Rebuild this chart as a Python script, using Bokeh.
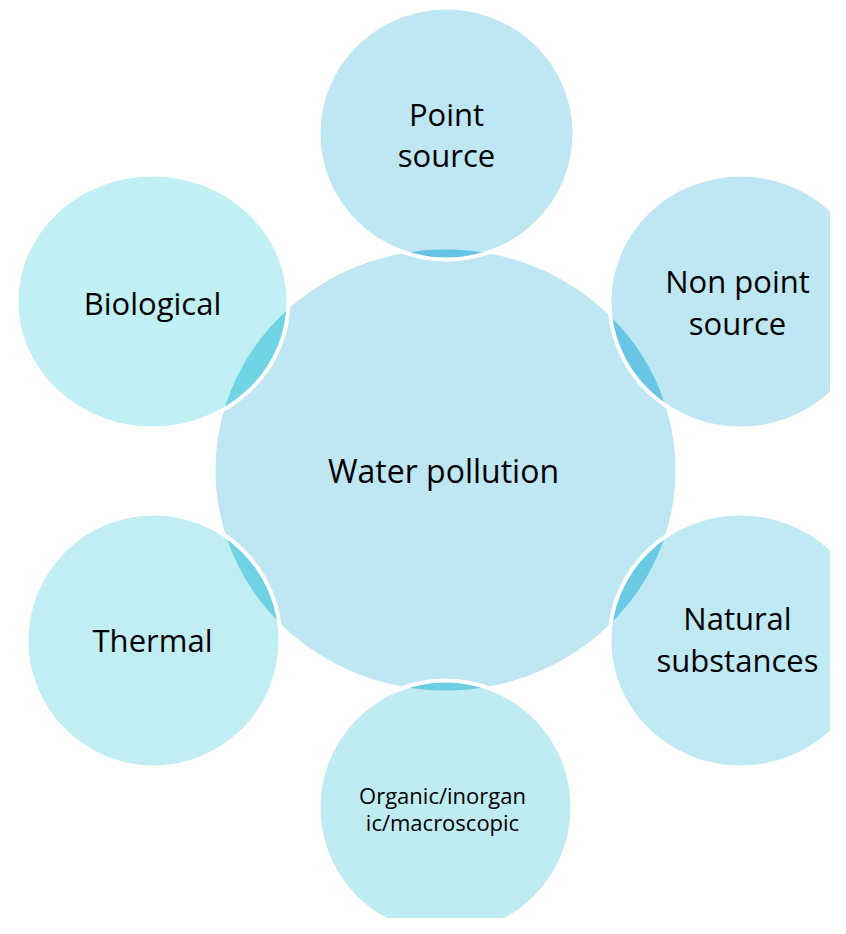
import numpy as np
from bokeh.plotting import figure
from bokeh.models import Range1d, ColumnDataSource
from bokeh.core.properties import value
from bokeh.embed import file_html
from bokeh.resources import INLINE

# ---- content ----
center_label = "Water pollution"
outer_labels = ["Point\nsource", "Non point\nsource", "Natural\nsubstances",
                "Organic/inorgan\nic/macroscopic", "Thermal", "Biological"]

# ---- layout (screen-pixel coordinates) ----
center_xy = (445, 469.5)
center_r = (230, 220.5)
outer_cx = [446, 740, 740, 445, 153, 152]
outer_cy = [133, 301, 640, 807, 640, 301]
outer_rx = [128, 131, 131, 127, 127, 136]
outer_ry = [126, 127, 127, 127, 127, 127]
outer_fill = ["#bee6f3", "#bee7f3", "#bfe9f3", "#bfebf3", "#c0eef3", "#c1f0f4"]
lens_fill = ["#64c3e6", "#68c6e4", "#6ac9e3", "#6dcde2", "#6fd2e3", "#6fd4e3"]
label_x = [446, 737, 737, 442, 152, 152]
label_base = [113, 280, 617, 794, 639, 302]
label_gap = [41, 42, 42, 27, 0, 0]
label_size = ["31px", "31px", "31px", "22px", "31px", "31px"]
center_text_xy = (443, 470)
center_fill = "#bee6f3"

W, H = 830, 918
p = figure(width=W, height=H, output_backend="svg", toolbar_location=None,
           x_range=Range1d(0, W), y_range=Range1d(H, 0),
           min_border=0)
p.axis.visible = False
p.grid.visible = False
p.outline_line_color = None
p.background_fill_color = "white"
p.border_fill_color = "white"

# central circle
p.ellipse(x=[center_xy[0]], y=[center_xy[1]], width=[2 * center_r[0]],
          height=[2 * center_r[1]], fill_color=center_fill, line_color=None)


def ell_pts(cx, cy, rx, ry, n=1440):
    t = np.linspace(0, 2 * np.pi, n, endpoint=False)
    return cx + rx * np.cos(t), cy + ry * np.sin(t)


def inside(x, y, cx, cy, rx, ry):
    return ((x - cx) / rx) ** 2 + ((y - cy) / ry) ** 2 <= 1.0


lens_xs, lens_ys = [], []
for cx, cy, rx, ry in zip(outer_cx, outer_cy, outer_rx, outer_ry):
    ax, ay = ell_pts(cx, cy, rx, ry)
    m1 = inside(ax, ay, *center_xy, *center_r)
    bx, by = ell_pts(*center_xy, *center_r)
    m2 = inside(bx, by, cx, cy, rx, ry)
    px = np.concatenate([ax[m1], bx[m2]])
    py = np.concatenate([ay[m1], by[m2]])
    mx, my = px.mean(), py.mean()
    order = np.argsort(np.arctan2(py - my, px - mx))
    lens_xs.append(list(px[order]))
    lens_ys.append(list(py[order]))

src = ColumnDataSource(dict(x=outer_cx, y=outer_cy,
                            w=[2 * r for r in outer_rx], h=[2 * r for r in outer_ry],
                            fill=outer_fill))
p.ellipse(x="x", y="y", width="w", height="h", fill_color="fill",
          line_color=None, source=src)
p.patches(xs=lens_xs, ys=lens_ys, fill_color=lens_fill, line_color=None)
p.ellipse(x="x", y="y", width="w", height="h", fill_color=None,
          line_color="white", line_width=4, source=src)

# labels
tx, ty, tt, ts = [], [], [], []
for lab, x0, b0, gap, fs in zip(outer_labels, label_x, label_base, label_gap, label_size):
    for i, line in enumerate(lab.split("\n")):
        tx.append(x0)
        ty.append(b0 + i * gap)
        tt.append(line)
        ts.append(fs)
tx.append(center_text_xy[0]); ty.append(center_text_xy[1]); tt.append(center_label); ts.append("32px")

p.text(x="x", y="y", text="t", text_font_size="s",
       source=ColumnDataSource(dict(x=tx, y=ty, t=tt, s=ts)),
       text_font=value("Open Sans"), text_color="black",
       text_align="center", text_baseline="alphabetic")

open("out.html", "w").write(file_html(p, INLINE))
